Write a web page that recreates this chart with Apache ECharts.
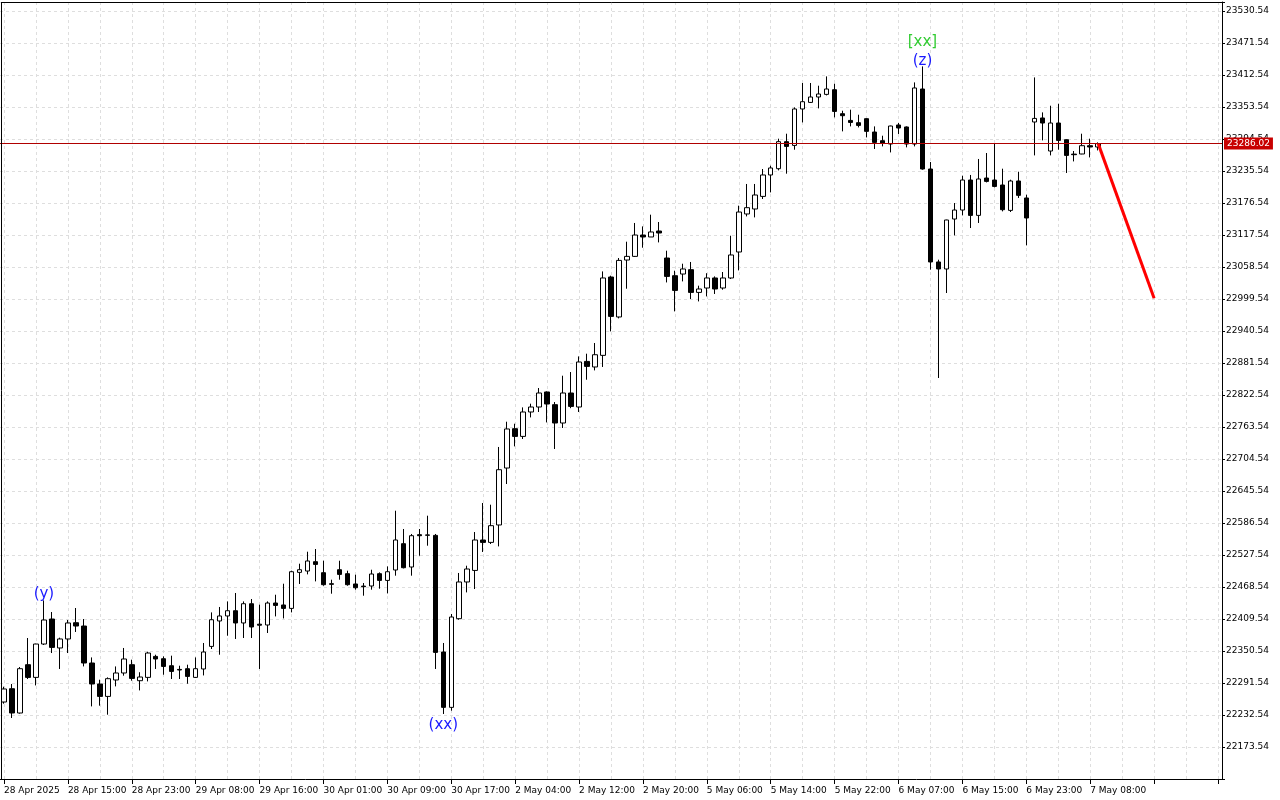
<!DOCTYPE html>
<html><head><meta charset="utf-8">
<script src="https://cdn.jsdelivr.net/npm/echarts@6/dist/echarts.min.js"></script>
<style>html,body{margin:0;padding:0;background:#fff}#c{width:1280px;height:800px}</style>
</head><body><div id="c"></div>
<script>
// ---- data (hourly candles, 28 Apr 07:00 .. 7 May 09:00) ----
const opens = [22256.5,22281.0,22236.2,22325.3,22301.9,22363.4,22409.5,22356.1,22372.7,22402.7,
22396.6,22328.4,22289.7,22266.8,22297.1,22310.0,22325.3,22295.8,22301.9,22340.6,
22336.3,22323.4,22316.6,22317.9,22301.9,22317.4,22359.0,22405.9,22415.1,22424.8,
22402.2,22437.7,22400.0,22398.5,22439.0,22435.4,22429.1,22495.5,22498.0,22515.2,
22494.9,22474.6,22500.4,22493.1,22474.1,22470.2,22470.4,22493.1,22480.7,22499.9,
22548.4,22505.4,22565.0,22564.6,22563.7,22348.7,22246.6,22410.1,22477.8,22499.1,
22555.2,22550.8,22582.9,22687.9,22760.4,22746.2,22791.2,22800.4,22828.1,22804.7,
22770.9,22826.2,22800.4,22884.5,22874.2,22895.6,23040.1,22966.4,23071.4,23078.1,
23117.5,23113.9,23124.9,23075.1,23042.5,23045.6,23053.6,23011.7,23019.8,23038.3,
23019.8,23038.3,23086.2,23156.3,23165.5,23188.7,23228.2,23239.8,23289.6,23282.7,
23349.9,23362.0,23372.0,23376.8,23385.4,23341.2,23328.8,23324.6,23332.0,23307.4,
23291.4,23285.3,23320.4,23316.7,23285.3,23386.7,23239.2,23067.8,23054.9,23147.0,
23163.6,23218.9,23153.7,23222.6,23218.9,23209.7,23162.9,23217.1,23185.8,23325.9,
23333.3,23272.4,23324.0,23293.2,23266.7,23266.9,23282.2,23279.8];
const closes = [22280.5,22236.2,22317.9,22301.9,22363.4,22407.7,22357.2,22372.7,22402.2,22396.6,
22328.4,22289.7,22266.8,22299.5,22310.0,22335.8,22300.0,22302.6,22346.8,22335.8,
22322.1,22312.9,22315.5,22303.7,22317.9,22348.7,22408.2,22415.1,22424.8,22402.2,
22437.7,22394.8,22398.1,22439.0,22434.6,22429.1,22496.7,22500.4,22516.5,22510.2,
22472.8,22473.5,22491.8,22472.8,22467.2,22469.1,22492.5,22480.7,22496.7,22555.2,
22504.1,22563.1,22563.1,22563.9,22348.0,22246.6,22413.2,22477.8,22501.7,22555.2,
22550.8,22581.6,22684.8,22759.9,22746.2,22791.2,22800.4,22826.2,22805.9,22770.9,
22826.2,22801.5,22883.4,22875.3,22896.8,23038.3,22967.5,23070.7,23078.1,23117.5,
23113.9,23123.1,23121.2,23041.2,23015.4,23054.9,23011.7,23018.0,23038.3,23018.0,
23038.3,23080.7,23159.9,23167.9,23191.3,23228.2,23241.1,23289.6,23280.9,23349.9,
23363.3,23372.0,23377.5,23386.7,23345.4,23337.5,23325.1,23319.6,23308.6,23288.3,
23287.2,23318.5,23314.8,23285.3,23388.6,23239.2,23067.8,23054.9,23145.2,23163.6,
23218.9,23153.7,23220.8,23216.4,23207.1,23164.2,23217.1,23190.6,23148.9,23332.5,
23324.0,23324.0,23292.0,23264.3,23265.6,23282.2,23279.8,23286.02];
const lows = [22253.4,22227.0,22235.0,22298.9,22287.1,22361.6,22346.8,22317.4,22346.8,22385.6,
22322.1,22248.4,22249.7,22233.1,22285.3,22305.0,22295.8,22277.9,22294.5,22317.4,
22306.8,22298.9,22298.9,22290.2,22300.8,22305.5,22354.2,22343.7,22378.7,22372.7,
22374.5,22374.5,22317.4,22383.7,22414.3,22410.6,22421.7,22474.1,22491.8,22478.9,
22470.9,22456.2,22482.0,22470.9,22463.6,22452.5,22463.6,22465.4,22456.7,22489.4,
22502.8,22489.4,22526.2,22544.7,22317.4,22234.4,22240.5,22408.2,22458.6,22464.8,
22533.1,22547.8,22543.4,22658.4,22727.8,22741.4,22781.2,22791.2,22772.0,22723.0,
22761.7,22798.2,22791.2,22850.7,22867.9,22874.2,22939.8,22963.8,23018.5,23077.0,
23094.1,23113.9,23103.9,23030.1,22976.7,23032.0,22999.5,22995.1,23004.3,23008.8,
23016.7,23036.4,23052.3,23151.8,23150.0,23183.9,23196.1,23236.7,23230.6,23274.8,
23325.1,23360.9,23351.0,23374.9,23334.4,23308.6,23317.8,23315.9,23297.5,23276.1,
23280.9,23269.8,23303.8,23279.1,23280.9,23237.9,23053.6,22853.9,23010.6,23116.8,
23153.7,23130.4,23139.7,23214.5,23205.3,23161.1,23159.9,23185.8,23098.4,23264.3,
23292.0,23264.3,23274.8,23231.9,23253.2,23266.5,23260.6,23273.5];
const highs = [22284.7,22289.7,22321.0,22374.5,22364.0,22443.8,22422.4,22375.1,22407.7,22429.8,
22409.5,22338.7,22297.6,22301.9,22322.1,22356.1,22334.5,22311.4,22349.2,22343.7,
22340.6,22341.9,22323.4,22325.3,22338.7,22365.3,22421.7,22431.7,22442.0,22457.5,
22442.0,22446.4,22435.9,22442.0,22454.3,22474.6,22498.6,22511.5,22533.6,22538.6,
22517.0,22482.0,22517.0,22498.6,22491.2,22475.9,22500.4,22495.5,22506.5,22609.2,
22575.5,22566.3,22575.5,22600.0,22566.3,22365.3,22418.8,22494.4,22507.8,22569.9,
22623.4,22620.3,22726.7,22773.3,22769.6,22799.7,22806.5,22835.4,22829.2,22809.6,
22858.1,22864.9,22893.7,22898.7,22918.4,23050.4,23042.5,23075.1,23105.2,23139.7,
23133.4,23155.0,23141.5,23088.6,23051.7,23064.6,23067.8,23024.1,23047.1,23041.2,
23049.3,23116.2,23171.6,23211.6,23211.6,23239.2,23245.3,23295.1,23304.3,23352.8,
23397.8,23397.8,23392.8,23410.0,23396.5,23346.7,23348.6,23339.3,23333.0,23317.8,
23300.6,23319.1,23324.0,23317.8,23398.9,23428.4,23252.1,23072.0,23145.7,23176.5,
23226.9,23228.2,23257.7,23268.7,23285.9,23239.8,23219.5,23234.2,23191.8,23408.1,
23343.6,23355.9,23359.6,23294.0,23272.4,23304.3,23295.1,23288.3];

const tickLabels = ['28 Apr 2025','28 Apr 15:00','28 Apr 23:00','29 Apr 08:00','29 Apr 16:00',
'30 Apr 01:00','30 Apr 09:00','30 Apr 17:00','2 May 04:00','2 May 12:00','2 May 20:00',
'5 May 06:00','5 May 14:00','5 May 22:00','6 May 07:00','6 May 15:00','6 May 23:00','7 May 08:00'];

// wave labels: candle index, text, anchor
const waveIdx = [5, 55, 115, 115];
const waveText = ['(y)', '(xx)', '(z)', '[xx]'];
const waveAnchor = ['high', 'low', 'high', 'high'];

// forecast segment
const forecastIdx = [137, 144];
const forecastVal = [23286.02, 23001.0];

// ---- chart ----
const SLOTS = 153;
const slots = Array.from({length: SLOTS}, (_, i) => String(i));
const ohlc = opens.map((o, i) => [o, closes[i], lows[i], highs[i]]);
const lastPrice = closes[closes.length - 1];
const FONT = 'DejaVu Sans';

const waveStyle = {
  '(y)':  {color: '#1a1aff', pos: 'top', dist: 0, dy: 1},
  '(xx)': {color: '#1a1aff', pos: 'bottom', dist: 4, dy: 0},
  '(z)':  {color: '#1a1aff', pos: 'top', dist: 0, dy: 2},
  '[xx]': {color: '#33cc33', pos: 'top', dist: 17, dy: 0}
};
const markPoints = waveIdx.map((idx, k) => {
  const st = waveStyle[waveText[k]];
  const v = waveAnchor[k] === 'high' ? highs[idx] : lows[idx];
  return {
    coord: [idx, v], symbolSize: 0,
    label: {show: true, formatter: waveText[k], position: st.pos, distance: st.dist, offset: [0, st.dy],
      color: st.color, fontFamily: FONT, fontSize: 15}
  };
});

const chart = echarts.init(document.getElementById('c'), null, {renderer: 'canvas'});
chart.setOption({
  animation: false,
  backgroundColor: '#ffffff',
  grid: {left: -2, right: 58, top: 2, bottom: 21, containLabel: false, show: false},
  xAxis: {
    type: 'category', data: slots, boundaryGap: true,
    axisLine: {show: true, lineStyle: {color: '#000', width: 1}},
    axisTick: {show: true, interval: 7, alignWithLabel: true, length: 5, lineStyle: {color: '#000'}},
    axisLabel: {interval: 7, align: 'left', margin: 5, padding: [2, 0, 0, 0], fontFamily: FONT, fontSize: 9, color: '#000',
      formatter: (v, idx) => tickLabels[idx / 8] || ''},
    splitLine: {show: true, interval: 3, alignWithLabel: true,
      lineStyle: {color: '#dedede', width: 1, type: [3, 3]}}
  },
  yAxis: {
    type: 'value', position: 'right', min: 22114.54, max: 23547.13, interval: 59,
    axisLine: {show: true, lineStyle: {color: '#000', width: 1}},
    axisTick: {show: true, length: 3, lineStyle: {color: '#000'}},
    axisLabel: {margin: 4, padding: [7, 0, 0, 0], fontFamily: FONT, fontSize: 9, color: '#000',
      formatter: v => (v < 22150 || v > 23540) ? '' : v.toFixed(2)},
    splitLine: {show: true, lineStyle: {color: '#dedede', width: 1, type: [3, 3]}}
  },
  graphic: [
    {type: 'line', shape: {x1: 1.5, y1: 2, x2: 1.5, y2: 779}, style: {stroke: '#000', lineWidth: 1}, z: 100},
    {type: 'line', shape: {x1: 1.5, y1: 2.5, x2: 1222, y2: 2.5}, style: {stroke: '#000', lineWidth: 1}, z: 100}
  ],
  series: [
    {
      type: 'candlestick', data: ohlc, barWidth: 5,
      itemStyle: {color: '#ffffff', color0: '#000000', borderColor: '#000000', borderColor0: '#000000', borderWidth: 1},
      markLine: {
        silent: true, symbol: ['none', 'none'], animation: false,
        data: [{yAxis: lastPrice}],
        lineStyle: {color: '#b00000', width: 1, type: 'solid'},
        label: {show: true, position: 'end', formatter: lastPrice.toFixed(2), distance: 2,
          backgroundColor: '#c80000', color: '#ffffff', fontFamily: FONT, fontSize: 9, padding: [2, 3, 1, 3]}
      },
      markPoint: {silent: true, animation: false, data: markPoints}
    },
    {
      type: 'line', silent: true, symbol: 'none',
      data: forecastIdx.map((x, i) => [x, forecastVal[i]]),
      lineStyle: {color: '#ff0000', width: 3}
    }
  ]
});
</script></body></html>
